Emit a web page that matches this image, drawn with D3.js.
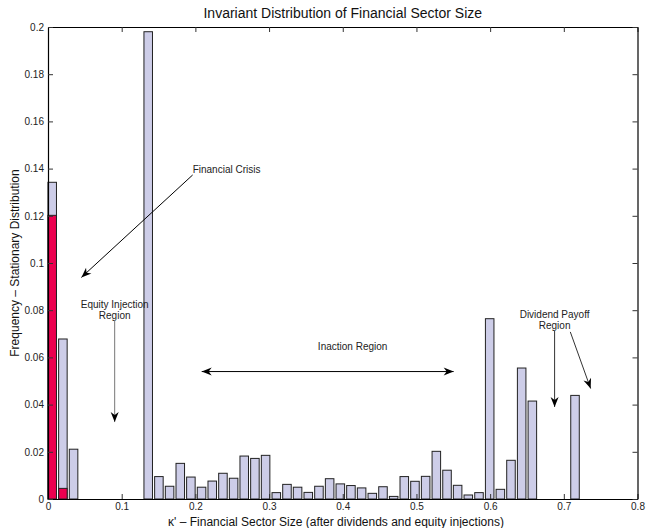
<!DOCTYPE html>
<html>
<head>
<meta charset="utf-8">
<script src="https://cdn.jsdelivr.net/npm/d3@7"></script>
<style>
  body { margin: 0; background: #fff; }
  text { font-family: "Liberation Sans", Arial, sans-serif; }
</style>
</head>
<body>
<div id="chart"></div>
<script>
// bin centres of the histogram (kappa')
const binCenters = [
    0.0057, 0.0202, 0.0347, 0.0491, 0.0636, 0.0781, 0.0926, 0.1071, 0.1215, 0.1360,
    0.1505, 0.1650, 0.1795, 0.1939, 0.2084, 0.2229, 0.2374, 0.2519, 0.2663, 0.2808,
    0.2953, 0.3098, 0.3243, 0.3387, 0.3532, 0.3677, 0.3822, 0.3967, 0.4111, 0.4256,
    0.4401, 0.4546, 0.4691, 0.4835, 0.4980, 0.5125, 0.5270, 0.5415, 0.5559, 0.5704,
    0.5849, 0.5994, 0.6139, 0.6283, 0.6428, 0.6573, 0.6718, 0.6863, 0.7007, 0.7152
];
// stationary frequency, all states
const totalFreq = [
    0.1342, 0.0678, 0.0211, 0, 0, 0, 0, 0, 0, 0.1980,
    0.0095, 0.0054, 0.0151, 0.0093, 0.0050, 0.0076, 0.0109, 0.0088, 0.0182, 0.0172,
    0.0185, 0.0027, 0.0062, 0.0050, 0.0028, 0.0054, 0.0086, 0.0064, 0.0057, 0.0047,
    0.0024, 0.0052, 0.0011, 0.0095, 0.0075, 0.0096, 0.0202, 0.0122, 0.0058, 0.0017,
    0.0027, 0.0764, 0.0041, 0.0164, 0.0555, 0.0415, 0, 0, 0, 0.0439
];
// frequency during financial crisis (only first bins)
const crisisFreq = [0.1202, 0.0045];

const xTicks = [0, 0.1, 0.2, 0.3, 0.4, 0.5, 0.6, 0.7, 0.8];
const yTicks = [0, 0.02, 0.04, 0.06, 0.08, 0.1, 0.12, 0.14, 0.16, 0.18, 0.2];
const yTickLabels = ["0", "0.02", "0.04", "0.06", "0.08", "0.1", "0.12", "0.14", "0.16", "0.18", "0.2"];

const binWidth = 0.01448;
const barWidth = 0.8 * binWidth;

// annotations (data coordinates)
const labels = [
    { lines: ["Financial Crisis"], x: 0.1963, y: 0.1398, anchor: "start" },
    { lines: ["Equity Injection", "Region"], x: 0.0905, y: 0.0826, anchor: "middle" },
    { lines: ["Inaction Region"], x: 0.4134, y: 0.0645, anchor: "middle" },
    { lines: ["Dividend Payoff", "Region"], x: 0.6875, y: 0.0783, anchor: "middle" }
];
const arrows = [
    { x1: 0.1963, y1: 0.1373, x2: 0.0453, y2: 0.0939, color: "#000", both: false },
    { x1: 0.0905, y1: 0.0758, x2: 0.0905, y2: 0.0326, color: "#777", both: false },
    { x1: 0.2086, y1: 0.0540, x2: 0.5505, y2: 0.0540, color: "#000", both: true },
    { x1: 0.6875, y1: 0.0712, x2: 0.6875, y2: 0.0390, color: "#333", both: false },
    { x1: 0.7088, y1: 0.0708, x2: 0.7364, y2: 0.0468, color: "#333", both: false }
];

function renderChart() {
    const width = 647;
    const height = 528;
    const margin = { top: 27, right: 9.5, bottom: 29, left: 48 };

    const svg = d3.select("#chart").append("svg")
        .attr("width", width)
        .attr("height", height);

    const x = d3.scaleLinear()
        .domain([0, 0.8])
        .range([margin.left, width - margin.right]);

    const y = d3.scaleLinear()
        .domain([0, 0.2])
        .range([height - margin.bottom, margin.top]);

    const defs = svg.append("defs");
    defs.append("marker")
        .attr("id", "head")
        .attr("viewBox", "-12 -6 14 12")
        .attr("refX", 0).attr("refY", 0)
        .attr("markerWidth", 14).attr("markerHeight", 12)
        .attr("markerUnits", "userSpaceOnUse")
        .attr("orient", "auto-start-reverse")
        .append("path")
        .attr("d", "M0,0 L-10,-4 L-7,0 L-10,4 Z")
        .attr("fill", "#000");

    const data = binCenters.map((c, i) => ({ c, v: totalFreq[i], r: crisisFreq[i] || 0 }));

    // total frequency bars
    svg.append("g")
        .selectAll("rect")
        .data(data.filter(d => d.v > 0))
        .enter()
        .append("rect")
        .attr("x", d => x(d.c - barWidth / 2))
        .attr("y", d => y(d.v))
        .attr("width", d => x(d.c + barWidth / 2) - x(d.c - barWidth / 2))
        .attr("height", d => y(0) - y(d.v))
        .attr("fill", "#cdcde8")
        .attr("stroke", "#222")
        .attr("stroke-width", 1);

    // crisis bars on top
    svg.append("g")
        .selectAll("rect")
        .data(data.filter(d => d.r > 0))
        .enter()
        .append("rect")
        .attr("x", d => x(d.c - barWidth / 2))
        .attr("y", d => y(d.r))
        .attr("width", d => x(d.c + barWidth / 2) - x(d.c - barWidth / 2))
        .attr("height", d => y(0) - y(d.r))
        .attr("fill", "#ec004f")
        .attr("stroke", "#222")
        .attr("stroke-width", 1);

    // axes, ticks pointing inward, box around
    svg.append("g")
        .attr("transform", `translate(0,${y(0)})`)
        .call(d3.axisBottom(x).tickValues(xTicks).tickFormat(d3.format("~g"))
            .tickSizeInner(-5).tickSizeOuter(0).tickPadding(4));
    svg.append("g")
        .attr("transform", `translate(0,${y(0.2)})`)
        .call(d3.axisTop(x).tickValues(xTicks).tickFormat("")
            .tickSizeInner(-5).tickSizeOuter(0));
    svg.append("g")
        .attr("transform", `translate(${x(0)},0)`)
        .call(d3.axisLeft(y).tickValues(yTicks).tickFormat((d, i) => yTickLabels[i])
            .tickSizeInner(-5).tickSizeOuter(0).tickPadding(4));
    svg.append("g")
        .attr("transform", `translate(${x(0.8)},0)`)
        .call(d3.axisRight(y).tickValues(yTicks).tickFormat("")
            .tickSizeInner(-5).tickSizeOuter(0));

    svg.selectAll(".domain").attr("stroke", "#000").attr("stroke-width", 1.2);
    svg.selectAll(".tick line").attr("stroke", "#333");
    svg.selectAll(".tick text")
        .attr("font-size", 10)
        .attr("fill", "#222")
        .style("font-family", "'Liberation Sans', Arial, sans-serif");

    // annotations
    const ann = svg.append("g")
        .attr("font-size", 10)
        .attr("fill", "#222");
    labels.forEach(l => {
        l.lines.forEach((t, i) => {
            ann.append("text")
                .attr("x", x(l.x))
                .attr("y", y(l.y) + i * 11.5)
                .attr("dy", "0.35em")
                .attr("text-anchor", l.anchor)
                .text(t);
        });
    });

    svg.append("g")
        .selectAll("line")
        .data(arrows)
        .enter()
        .append("line")
        .attr("x1", d => x(d.x1))
        .attr("y1", d => y(d.y1))
        .attr("x2", d => x(d.x2))
        .attr("y2", d => y(d.y2))
        .attr("stroke", d => d.color)
        .attr("stroke-width", 1)
        .attr("marker-end", "url(#head)")
        .attr("marker-start", d => d.both ? "url(#head)" : null);

    // titles
    svg.append("text")
        .attr("x", (x(0) + x(0.8)) / 2)
        .attr("y", 13)
        .attr("dy", "0.35em")
        .attr("text-anchor", "middle")
        .attr("font-size", 14)
        .attr("fill", "#111")
        .text("Invariant Distribution of Financial Sector Size");

    svg.append("text")
        .attr("x", 336)
        .attr("y", 522)
        .attr("dy", "0.35em")
        .attr("text-anchor", "middle")
        .attr("font-size", 12)
        .attr("fill", "#111")
        .text("κ' – Financial Sector Size (after dividends and equity injections)");

    svg.append("text")
        .attr("transform", `translate(15,${(y(0) + y(0.2)) / 2}) rotate(-90)`)
        .attr("dy", "0.35em")
        .attr("text-anchor", "middle")
        .attr("font-size", 12)
        .attr("fill", "#111")
        .text("Frequency – Stationary Distribution");
}

renderChart();
</script>
</body>
</html>
